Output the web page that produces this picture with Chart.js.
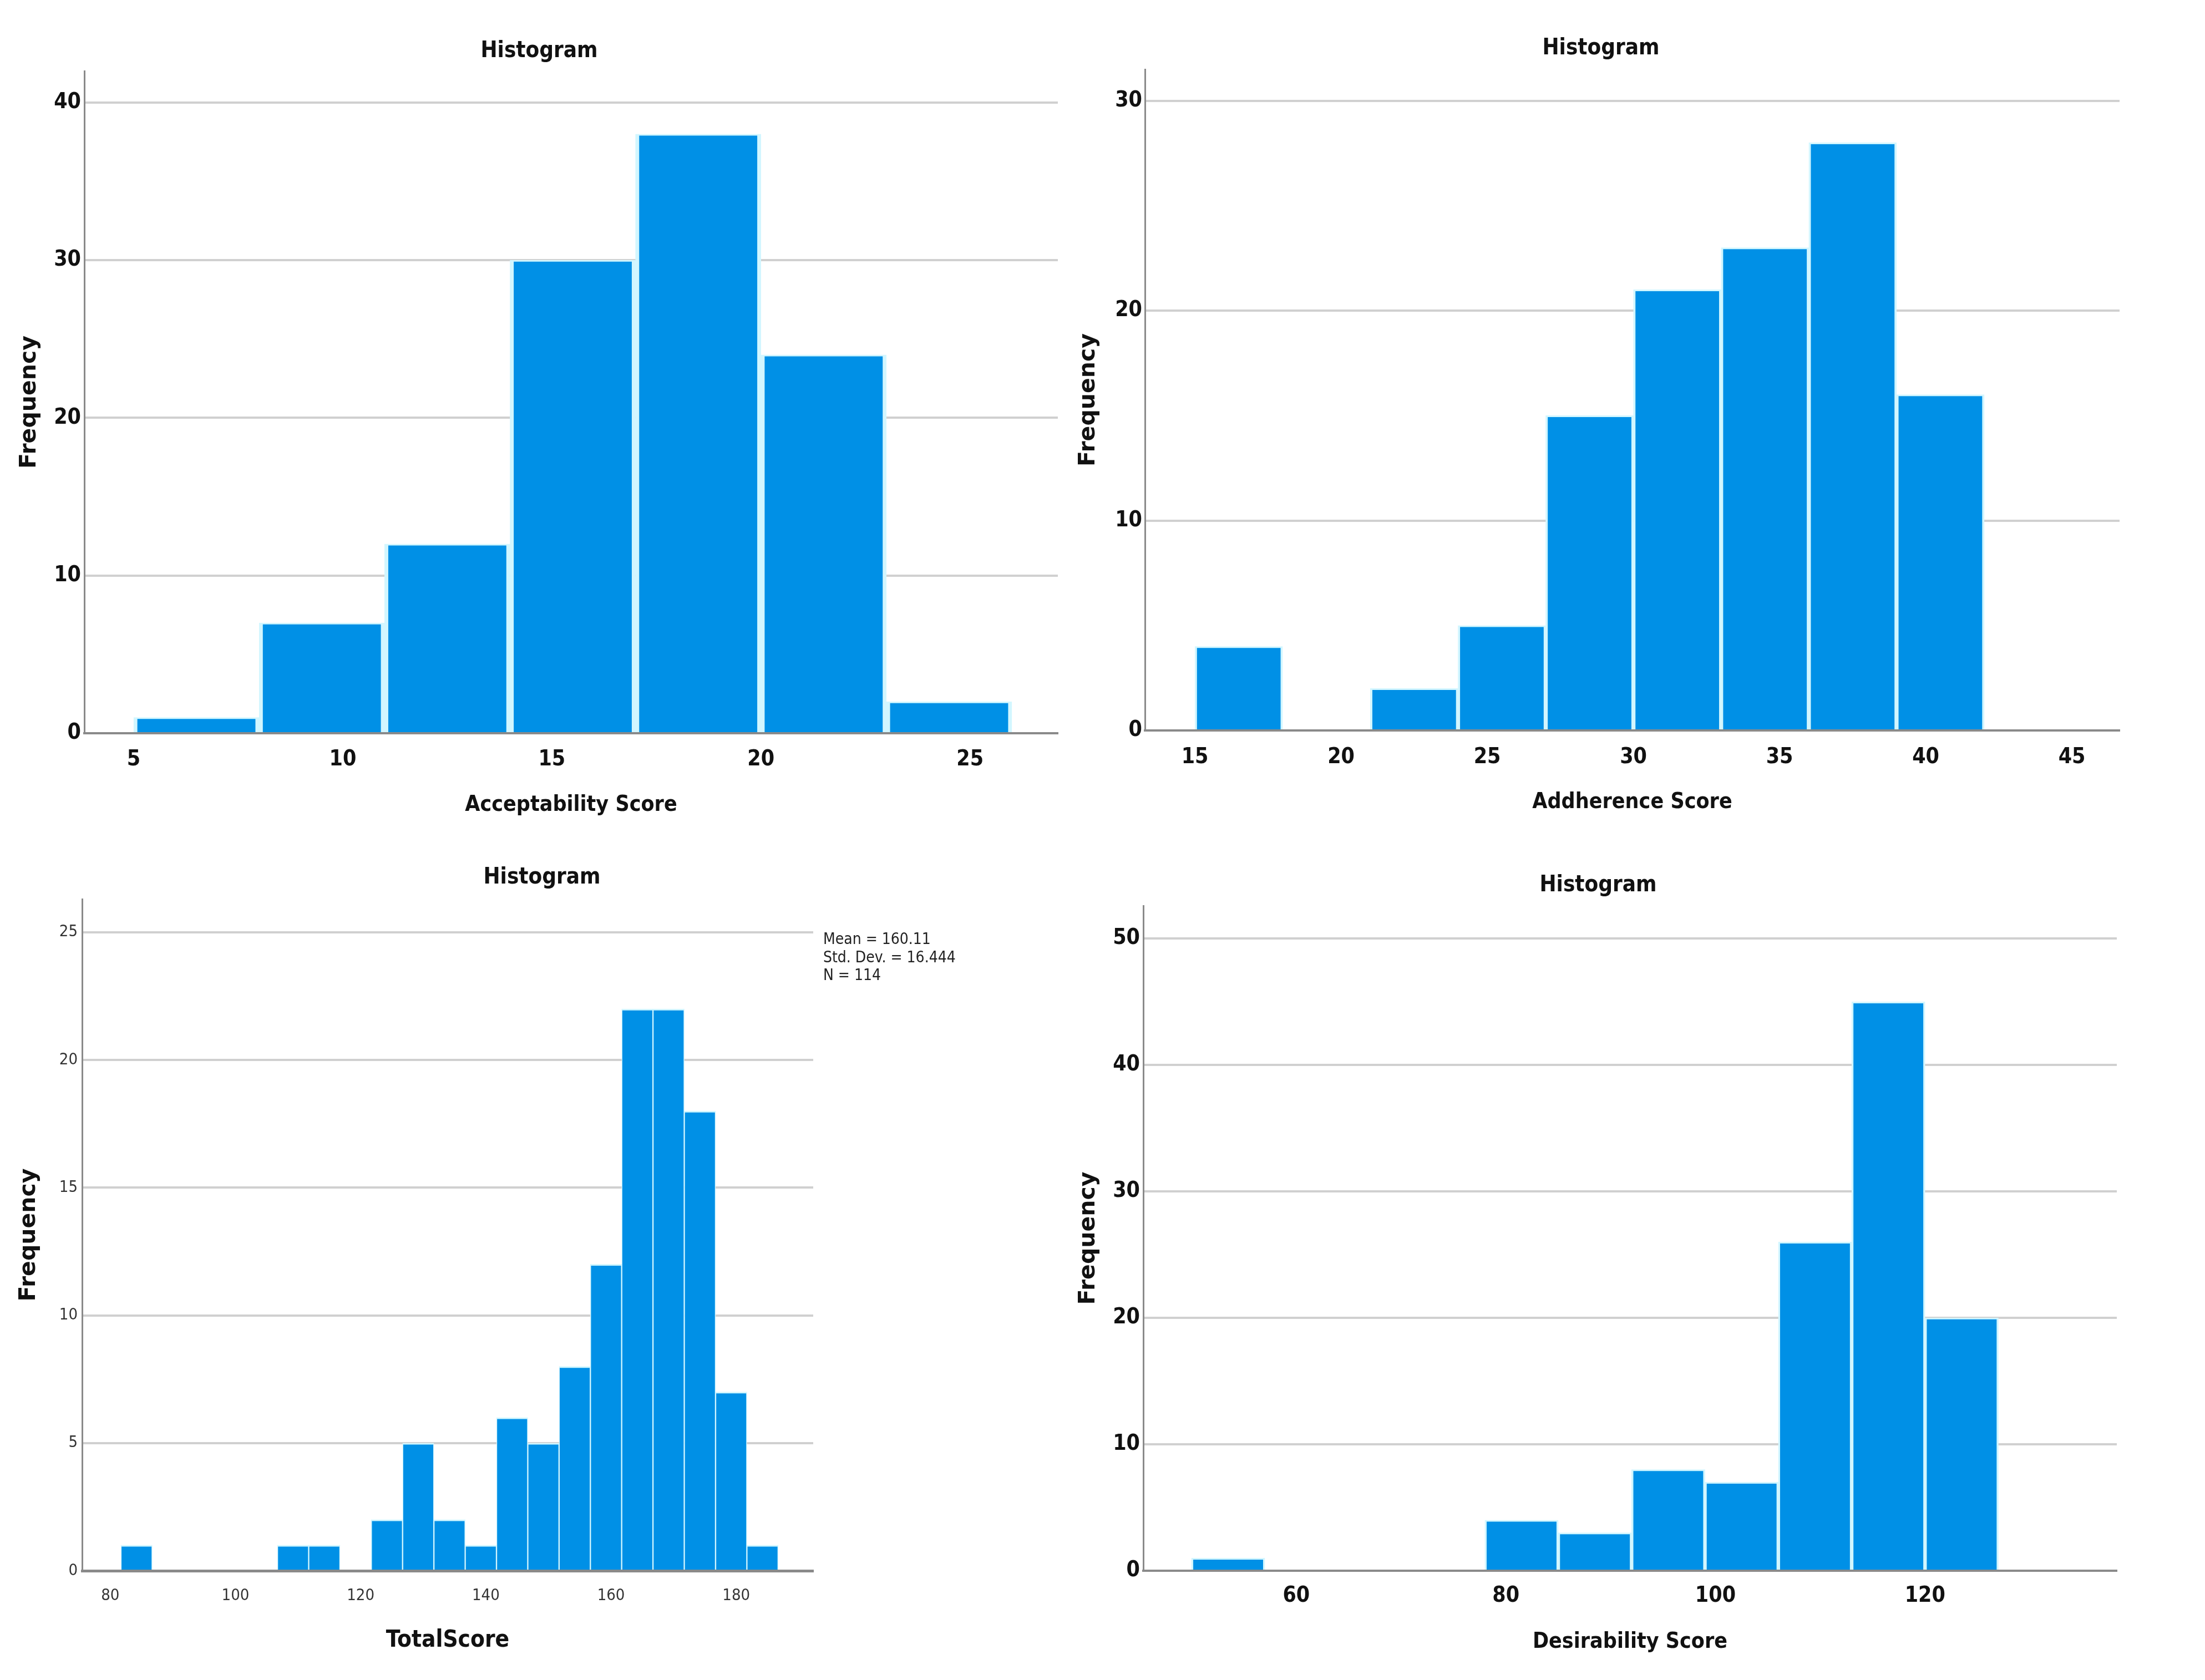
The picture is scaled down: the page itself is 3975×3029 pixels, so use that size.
<!DOCTYPE html>
<html>
<head>
<meta charset="utf-8">
<title>Histograms</title>
<script src="https://cdn.jsdelivr.net/npm/chart.js@4.4.1/dist/chart.umd.min.js"></script>
<style>
    html, body { margin: 0; padding: 0; background: #fff; }
    body { width: 3975px; height: 3029px; position: relative; overflow: hidden; }
    canvas { position: absolute; }
</style>
</head>
<body>
<canvas id="accChart" width="1915" height="1515" style="left:0;top:0"></canvas>
<canvas id="adhChart" width="2060" height="1515" style="left:1915px;top:0"></canvas>
<canvas id="totChart" width="1915" height="1514" style="left:0;top:1515px"></canvas>
<canvas id="desChart" width="2060" height="1514" style="left:1915px;top:1515px"></canvas>
<script>
// ==================== DATA ====================

// Acceptability Score
const accBinStarts = [5, 8, 11, 14, 17, 20, 23];
const accCounts = [1, 7, 12, 30, 38, 24, 2];
const accBinWidth = 3;
const accXTicks = [5, 10, 15, 20, 25];
const accYTicks = [0, 10, 20, 30, 40];

// Addherence Score
const adhBinStarts = [15, 18, 21, 24, 27, 30, 33, 36, 39];
const adhCounts = [4, 0, 2, 5, 15, 21, 23, 28, 16];
const adhBinWidth = 3;
const adhXTicks = [15, 20, 25, 30, 35, 40, 45];
const adhYTicks = [0, 10, 20, 30];

// TotalScore
const totBinStarts = [81.7, 86.7, 91.7, 96.7, 101.7, 106.7, 111.7, 116.7, 121.7, 126.7, 131.7,
                      136.7, 141.7, 146.7, 151.7, 156.7, 161.7, 166.7, 171.7, 176.7, 181.7];
const totCounts = [1, 0, 0, 0, 0, 1, 1, 0, 2, 5, 2, 1, 6, 5, 8, 12, 22, 22, 18, 7, 1];
const totBinWidth = 5;
const totXTicks = [80, 100, 120, 140, 160, 180];
const totYTicks = [0, 5, 10, 15, 20, 25];
const totStats = ["Mean = 160.11", "Std. Dev. = 16.444", "N = 114"];

// Desirability Score
const desBinStarts = [50, 57, 64, 71, 78, 85, 92, 99, 106, 113, 120];
const desCounts = [1, 0, 0, 0, 4, 3, 8, 7, 26, 45, 20];
const desBinWidth = 7;
const desXTicks = [60, 80, 100, 120];
const desYTicks = [0, 10, 20, 30, 40, 50];

// ==================== STYLE ====================
const NARROW = '"Liberation Sans Narrow", "DejaVu Sans Condensed", "Arial Narrow", sans-serif';
const BAR_BLUE = "#0090e6";
const BAR_EDGE = "#d2f6ff";

// ve text phu (tieu de "Histogram", thong ke)
const panelText = {
    id: "panelText",
    afterDraw(chart, args, opts) {
        const ctx = chart.ctx;
        ctx.save();
        (opts.items || []).forEach(it => {
            ctx.font = it.font;
            ctx.fillStyle = it.color || "#111";
            ctx.textAlign = it.align || "center";
            ctx.textBaseline = "middle";
            ctx.fillText(it.text, it.x, it.y);
        });
        ctx.restore();
    }
};

function makeHistogram(id, d, p) {
    const ctx = document.getElementById(id).getContext("2d");
    const points = d.starts.map((s, i) => ({ x: s + d.width / 2, y: d.counts[i] }));

    const items = [{ text: "Histogram", x: p.titleX, y: p.titleY, font: "bold 40px " + NARROW }];
    (p.extra || []).forEach(e => items.push(e));

    return new Chart(ctx, {
        type: "bar",
        data: {
            datasets: [{
                data: points,
                backgroundColor: BAR_BLUE,
                borderColor: BAR_EDGE,
                borderWidth: { top: 3, left: p.gap, right: p.gap, bottom: 0 },
                borderSkipped: false,
                barPercentage: 1,
                categoryPercentage: 1
            }]
        },
        options: {
            responsive: false,
            animation: false,
            layout: {
                autoPadding: false,
                padding: { top: p.top, right: p.right, left: 0, bottom: 0 }
            },
            plugins: {
                legend: { display: false },
                tooltip: { enabled: false },
                panelText: { items: items }
            },
            scales: {
                x: {
                    type: "linear",
                    min: p.xMin,
                    max: p.xMax,
                    offset: false,
                    grid: { display: false, offset: false },
                    border: { display: true, color: "#8a8a8a", width: p.xAxisWidth || 4 },
                    afterBuildTicks: s => { s.ticks = d.xTicks.map(v => ({ value: v })); },
                    afterFit: s => { s.height = p.xH; },
                    ticks: {
                        autoSkip: false,
                        maxRotation: 0,
                        padding: p.xTickPad,
                        color: p.tickColor || "#111",
                        font: { family: NARROW, size: p.tickSize || 39, weight: p.tickWeight || "bold" }
                    },
                    title: {
                        display: true,
                        text: d.xTitle,
                        color: "#111",
                        font: { family: NARROW, size: p.xTitleSize || 39, weight: "bold" },
                        padding: { top: 0, bottom: p.xTitlePad }
                    }
                },
                y: {
                    min: 0,
                    max: p.yMax,
                    grid: { color: "#d0d0d0", lineWidth: 4, drawTicks: false },
                    border: { color: "#8a8a8a", width: 3 },
                    afterBuildTicks: s => { s.ticks = d.yTicks.map(v => ({ value: v })); },
                    afterFit: s => { s.width = p.yW; },
                    ticks: {
                        padding: p.yTickPad,
                        color: p.tickColor || "#111",
                        font: { family: NARROW, size: p.tickSize || 39, weight: p.tickWeight || "bold" }
                    },
                    title: {
                        display: true,
                        text: "Frequency",
                        color: "#111",
                        font: { family: '"DejaVu Sans", Verdana, sans-serif', size: 41, weight: "bold" },
                        padding: { top: p.yTitlePad, bottom: 0 }
                    }
                }
            }
        },
        plugins: [panelText]
    });
}

document.addEventListener("DOMContentLoaded", function () {
    makeHistogram("accChart",
        { starts: accBinStarts, counts: accCounts, width: accBinWidth,
          xTicks: accXTicks, yTicks: accYTicks, xTitle: "Acceptability Score" },
        { top: 128, right: 8, yW: 152, xH: 193, xMin: 3.82, xMax: 27.1, yMax: 42,
          gap: 7, xTickPad: 16, yTickPad: 6, xTitlePad: 40, yTitlePad: 29,
          titleX: 972, titleY: 93 });

    makeHistogram("adhChart",
        { starts: adhBinStarts, counts: adhCounts, width: adhBinWidth,
          xTicks: adhXTicks, yTicks: adhYTicks, xTitle: "Addherence Score" },
        { top: 125, right: 154, yW: 149, xH: 198, xMin: 13.29, xMax: 46.63, yMax: 31.5,
          gap: 4, xTickPad: 17, yTickPad: 5, xTitlePad: 45, yTitlePad: 23,
          titleX: 971, titleY: 88 });

    makeHistogram("totChart",
        { starts: totBinStarts, counts: totCounts, width: totBinWidth,
          xTicks: totXTicks, yTicks: totYTicks, xTitle: "TotalScore" },
        { top: 106, right: 449, yW: 148, xH: 197, xMin: 75.5, xMax: 192.3, yMax: 26.3,
          gap: 1.5, xTickPad: 20, yTickPad: 8, xTitlePad: 46, yTitlePad: 28,
          xTitleSize: 42, tickSize: 29, tickWeight: "normal", tickColor: "#333", xAxisWidth: 5,
          titleX: 977, titleY: 68,
          extra: totStats.map((t, i) => ({
              text: t, x: 1484, y: 180 + i * 32.5, align: "left",
              font: "28px " + NARROW, color: "#222"
          })) });

    makeHistogram("desChart",
        { starts: desBinStarts, counts: desCounts, width: desBinWidth,
          xTicks: desXTicks, yTicks: desYTicks, xTitle: "Desirability Score" },
        { top: 118, right: 159, yW: 146, xH: 197, xMin: 45.4, xMax: 138.3, yMax: 52.6,
          gap: 3.5, xTickPad: 14, yTickPad: 6, xTitlePad: 45, yTitlePad: 23,
          titleX: 966, titleY: 82 });
});
</script>
</body>
</html>
